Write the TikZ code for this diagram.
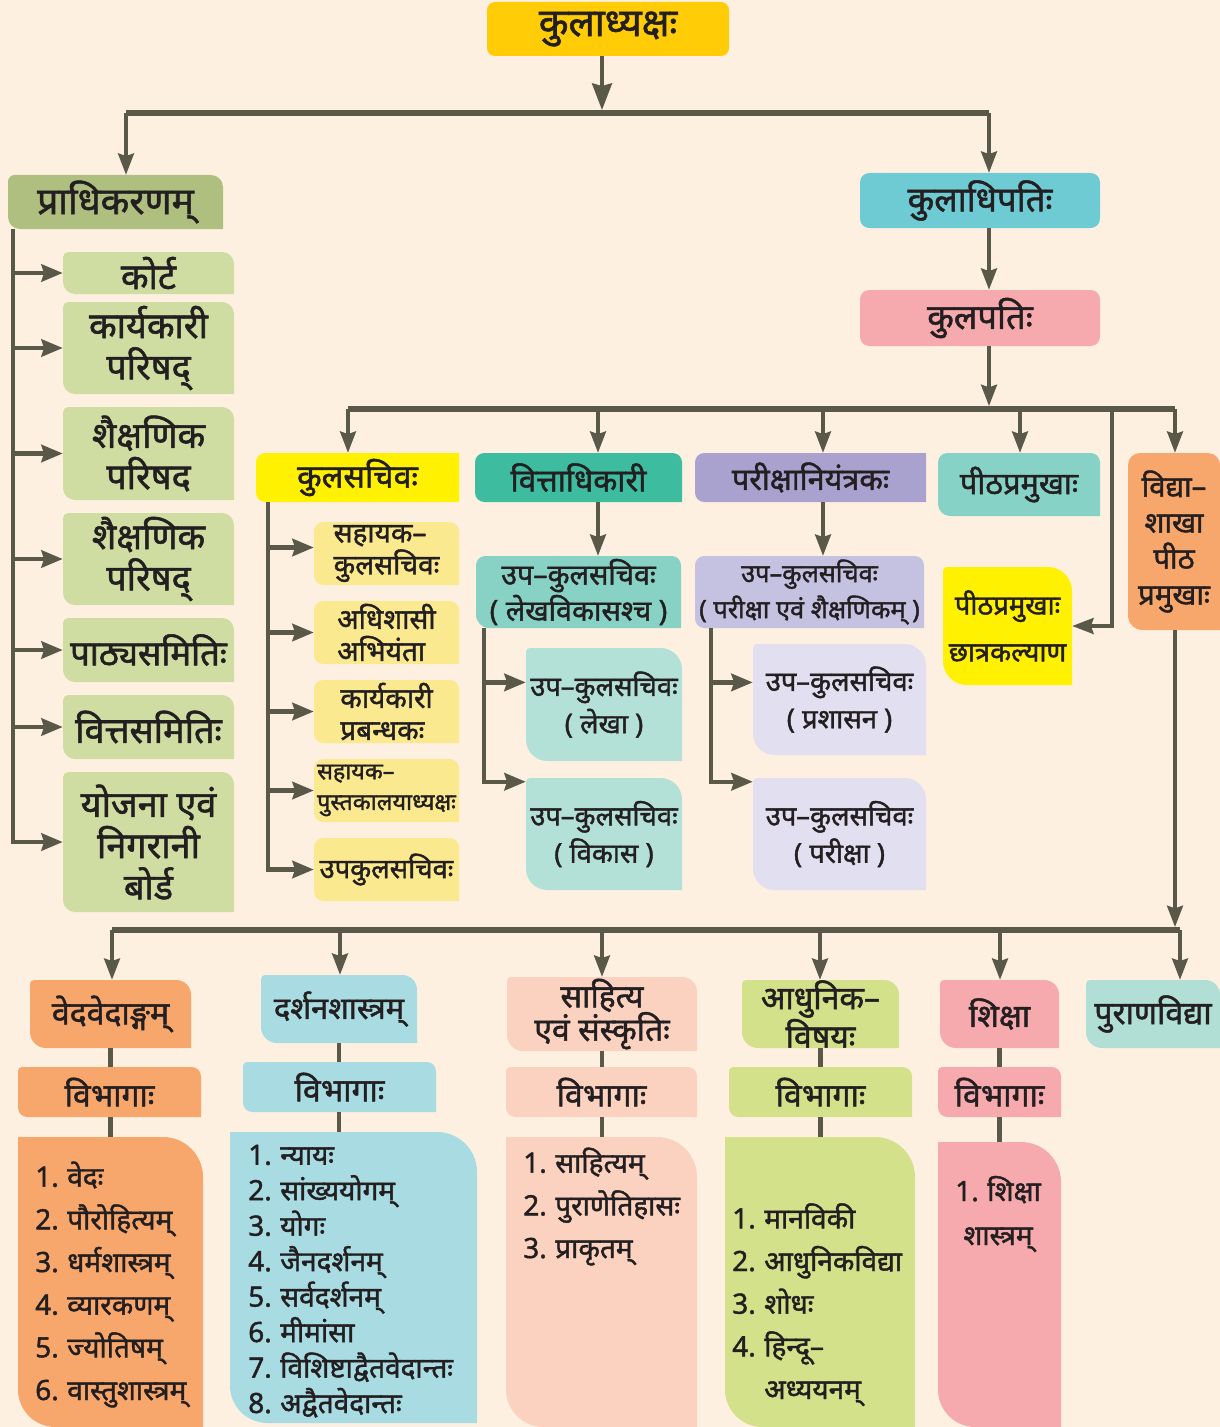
\documentclass[tikz,border=0pt]{standalone}
\usepackage{fontspec}
\setmainfont{Noto Sans}[Script=Devanagari, FakeBold=1.5]
\usetikzlibrary{arrows.meta,calc}
\definecolor{bgc}{HTML}{FDF0E1}
\definecolor{lc}{HTML}{5A5849}
\definecolor{txt}{HTML}{231F20}
\definecolor{cKad}{HTML}{FFCC05}
\definecolor{cPrad}{HTML}{AEBF7F}
\definecolor{cLg}{HTML}{CFDDA2}
\definecolor{cKdp}{HTML}{6ECAD3}
\definecolor{cKpt}{HTML}{F7AAAD}
\definecolor{cKsc}{HTML}{FFF100}
\definecolor{cLy}{HTML}{FBE98F}
\definecolor{cVtd}{HTML}{3DBC9F}
\definecolor{cUpv}{HTML}{87D2C4}
\definecolor{cLt}{HTML}{B3E1D7}
\definecolor{cPrk}{HTML}{A9A2CF}
\definecolor{cUpp}{HTML}{C5C1E1}
\definecolor{cLl}{HTML}{E2DFF1}
\definecolor{cPeeth}{HTML}{87D2C7}
\definecolor{cVid}{HTML}{F8A76C}
\definecolor{cDar}{HTML}{A8DCE2}
\definecolor{cSah}{HTML}{FBD1C0}
\definecolor{cAdh}{HTML}{D3E28A}
\definecolor{cPur}{HTML}{B2DFD5}
\newcommand\rshape[5]{\fill[#1] let \p1=(path picture bounding box.south west), \p2=(path picture bounding box.north east) in
  (\x1,\y2-#2pt) arc[start angle=180,end angle=90,radius=#2pt] -- (\x2-#3pt,\y2) arc[start angle=90,end angle=0,radius=#3pt]
  -- (\x2,\y1+#4pt) arc[start angle=0,end angle=-90,radius=#4pt] -- (\x1+#5pt,\y1) arc[start angle=270,end angle=180,radius=#5pt] -- cycle;}
\newcommand\B[7]{\node[#6, minimum width={(#4-#2)*0.75pt}, minimum height={(#5-#3)*0.75pt}] (#1) at ({(#2+#4)/2},{(#3+#5)/2}) {#7};}
\newcommand\numb[1]{\makebox[24pt][l]{#1}}
\newcommand\fs[2]{\fontsize{#1}{#2}\selectfont}
\tikzset{
  bx/.style n args={5}{fill=bgc, inner sep=0pt, text=txt, align=center, path picture={\rshape{#1}{#2}{#3}{#4}{#5}}},
  lt/.style={inner sep=0pt, text=txt, align=left, anchor=base west},
  ln/.style={draw=lc, line width=2.4pt},
  trunk/.style={draw=lc, line width=3.2pt},
  bus/.style={draw=lc, line width=4.2pt},
  arr/.style={ln, -{Stealth[length=16pt,width=12pt,inset=2pt]}},
  arrT/.style={trunk, -{Stealth[length=16pt,width=13pt,inset=2pt]}},
  arrB/.style={ln, -{Stealth[length=20pt,width=15pt,inset=2pt]}},
}
\begin{document}
\begin{tikzpicture}[x=0.75pt,y=-0.75pt]
\fill[bgc] (0,0) rectangle (1220,1427);
\useasboundingbox (0,0) rectangle (1220,1427);
% top
\B{kad}{487}{2}{729}{56}{bx={cKad}{6}{6}{6}{6}, font=\fs{29}{30}}{कुलाध्यक्षः}
\B{prad}{8}{175}{223}{229}{bx={cPrad}{5}{9}{0.01}{9}, font=\fs{28}{30}}{प्राधिकरणम्}
\B{kdp}{860}{173}{1100}{228}{bx={cKdp}{7}{7}{7}{7}, font=\fs{26}{30}}{कुलाधिपतिः}
\B{kpt}{860}{290}{1100}{346}{bx={cKpt}{7}{7}{7}{7}, font=\fs{26}{30}}{कुलपतिः}
% left green
\tikzset{lg/.style={bx={cLg}{4}{9}{0.01}{9}, font=\fs{27}{31}}}
\B{kort}{63}{252}{234}{294}{lg}{कोर्ट}
\B{kpar}{63}{302}{234}{394}{lg}{कार्यकारी\\परिषद्}
\B{shp1}{63}{407}{234}{500}{lg}{शैक्षणिक\\परिषद}
\B{shp2}{63}{513}{234}{605}{lg}{शैक्षणिक\\परिषद्}
\B{pths}{63}{618}{234}{682}{lg, font=\fs{26}{31}}{पाठ्यसमितिः}
\B{vtts}{63}{695}{234}{759}{lg}{वित्तसमितिः}
\B{yoj}{63}{772}{234}{912}{lg}{योजना एवं\\निगरानी\\बोर्ड}
% row 2
\B{ksc}{256}{453}{459}{502}{bx={cKsc}{7}{0.01}{0.01}{7}, font=\fs{24}{26}}{कुलसचिवः}
\tikzset{ly/.style={bx={cLy}{7}{7}{0.01}{7}, font=\fs{21}{24}, align=left}}
\B{sk1}{314}{522}{459}{585}{ly}{सहायक–\\कुलसचिवः}
\B{adhs}{314}{601}{459}{664}{ly}{अधिशासी\\अभियंता}
\B{kprb}{314}{680}{459}{743}{ly}{कार्यकारी\\प्रबन्धकः}
\B{spk}{314}{759}{459}{822}{ly, font=\fs{17.5}{23}}{सहायक–\\पुस्तकालयाध्यक्षः}
\B{upk}{314}{838}{459}{901}{ly, font=\fs{20.5}{24}}{उपकुलसचिवः}
\B{vtd}{475}{453}{682}{502}{bx={cVtd}{7}{7}{0.01}{7}, font=\fs{23.5}{26}}{वित्ताधिकारी}
\B{upv}{476}{556}{681}{628}{bx={cUpv}{7}{7}{0.01}{10}, font=\fs{21.5}{27}}{उप–कुलसचिवः\\( लेखविकासश्च )}
\B{lekha}{526}{648}{682}{761}{bx={cLt}{3}{16}{0.01}{16}, font=\fs{20.5}{28}}{उप–कुलसचिवः\\( लेखा )}
\B{vikas}{526}{778}{682}{890}{bx={cLt}{3}{16}{0.01}{16}, font=\fs{20.5}{28}}{उप–कुलसचिवः\\( विकास )}
\B{prk}{695}{453}{926}{502}{bx={cPrk}{7}{0.01}{0.01}{7}, font=\fs{23}{26}}{परीक्षानियंत्रकः}
\B{upp}{695}{556}{924}{628}{bx={cUpp}{7}{7}{0.01}{7}, font=\fs{19}{27}}{उप–कुलसचिवः\\( परीक्षा एवं शैक्षणिकम् )}
\B{prash}{753}{644}{926}{755}{bx={cLl}{3}{16}{0.01}{16}, font=\fs{20.5}{28}}{उप–कुलसचिवः\\( प्रशासन )}
\B{prksh}{753}{778}{926}{890}{bx={cLl}{3}{16}{0.01}{16}, font=\fs{20.5}{28}}{उप–कुलसचिवः\\( परीक्षा )}
\B{peeth}{938}{453}{1100}{516}{bx={cPeeth}{7}{7}{0.01}{9}, font=\fs{23}{26}}{पीठप्रमुखाः}
\B{chh}{943}{567}{1072}{685}{bx={cKsc}{3}{18}{0.01}{18}, font=\fs{20.5}{35}}{पीठप्रमुखाः\\छात्रकल्याण}
\B{vid}{1128}{453}{1220}{630}{bx={cVid}{9}{9}{0.01}{11}, font=\fs{22}{27}}{विद्या–\\शाखा\\पीठ\\प्रमुखाः}
% bottom row
\tikzset{bh/.style n args={1}{bx={#1}{3}{11}{0.01}{12}, font=\fs{24}{25}},
         bv/.style n args={1}{bx={#1}{3}{7}{0.01}{7}, font=\fs{24}{25}},
         bl/.style n args={1}{bx={#1}{0.01}{30}{0.01}{28}}}
\B{veda}{30}{980}{191}{1048}{bh=cVid}{वेदवेदाङ्गम्}
\B{vib1}{18}{1067}{201}{1117}{bv=cVid}{विभागाः}
\B{list1}{18}{1137}{203}{1427}{bl=cVid}{}
\B{dar}{261}{975}{417}{1043}{bh=cDar, font=\fs{23}{25}}{दर्शनशास्त्रम्}
\B{vib2}{243}{1062}{436}{1112}{bv=cDar}{विभागाः}
\B{list2}{230}{1132}{477}{1423}{bl=cDar}{}
\B{sah}{507}{977}{697}{1051}{bh=cSah}{साहित्य\\एवं संस्कृतिः}
\B{vib3}{506}{1067}{697}{1117}{bv=cSah}{विभागाः}
\B{list3}{506}{1137}{697}{1427}{bl=cSah}{}
\B{adh}{742}{980}{899}{1048}{bh=cAdh, font=\fs{24}{26}}{आधुनिक–\\विषयः}
\B{vib4}{729}{1067}{912}{1117}{bv=cAdh}{विभागाः}
\B{list4}{725}{1137}{915}{1427}{bl=cAdh}{}
\B{shik}{940}{980}{1059}{1048}{bh=cKpt}{शिक्षा}
\B{vib5}{938}{1067}{1061}{1117}{bv=cKpt}{विभागाः}
\B{list5}{938}{1142}{1061}{1427}{bl=cKpt}{}
\B{pur}{1086}{980}{1220}{1048}{bh=cPur}{पुराणविद्या}
% list texts (anchor = baseline of last line)
\node[lt, font=\fs{21}{32}] (t1) at (35,1400) {\numb{1.}वेदः\\\numb{2.}पौरोहित्यम्\\\numb{3.}धर्मशास्त्रम्\\\numb{4.}व्यारकणम्\\\numb{5.}ज्योतिषम्\\\numb{6.}वास्तुशास्त्रम्};
\node[lt, font=\fs{21}{26.6}] (t2) at (248,1413) {\numb{1.}न्यायः\\\numb{2.}सांख्ययोगम्\\\numb{3.}योगः\\\numb{4.}जैनदर्शनम्\\\numb{5.}सर्वदर्शनम्\\\numb{6.}मीमांसा\\\numb{7.}विशिष्टाद्वैतवेदान्तः\\\numb{8.}अद्वैतवेदान्तः};
\node[lt, font=\fs{21}{32}] (t3) at (523,1258) {\numb{1.}साहित्यम्\\\numb{2.}पुराणेतिहासः\\\numb{3.}प्राकृतम्};
\node[lt, font=\fs{21}{32}] (t4) at (732,1399) {\numb{1.}मानविकी\\\numb{2.}आधुनिकविद्या\\\numb{3.}शोधः\\\numb{4.}हिन्दू–\\\numb{}अध्ययनम्};
\node[lt, font=\fs{21}{33}] (t5) at (955,1245) {\numb{1.}शिक्षा\\\hspace*{6pt}शास्त्रम्};
% connectors top
\coordinate (b1m) at (602,110);
\coordinate (b1l) at (126,113);
\coordinate (b1r) at (989,113);
\draw[arrB] (kad.south -| b1m) -- (b1m);
\draw[bus] (b1l) -- (b1r);
\draw[arr] (b1l) -- (b1l |- prad.north);
\draw[arr] (b1r) -- (b1r |- kdp.north);
\draw[arr] (kdp.south -| b1r) -- (kpt.north -| b1r);
\coordinate (b2m) at (989,406);
\draw[arr] (kpt.south -| b1r) -- (b2m);
\coordinate (b2a) at (348,409);
\coordinate (b2b) at (598,409);
\coordinate (b2c) at (823,409);
\coordinate (b2d) at (1020,409);
\coordinate (b2f) at (1112,409);
\coordinate (b2e) at (1175,409);
\draw[bus] (b2a) -- (b2e);
\draw[arr] (b2a) -- (b2a |- ksc.north);
\draw[arr] (b2b) -- (b2b |- vtd.north);
\draw[arr] (b2c) -- (b2c |- prk.north);
\draw[arr] (b2d) -- (b2d |- peeth.north);
\draw[arr] (b2e) -- (b2e |- vid.north);
\draw[arr] (b2f) |- (chh.east);
\draw[arr] (vtd.south -| b2b) -- (upv.north -| b2b);
\draw[arr] (prk.south -| b2c) -- (upp.north -| b2c);
% left trunk
\coordinate (lv) at (13,229);
\foreach \n in {kort,kpar,shp1,shp2,pths,vtts,yoj} {\draw[arrT] (lv) |- (\n.west);}
% kulasachiv trunk
\coordinate (lv2) at (268,502);
\draw[arrT] (lv2) |- ([yshift=4.5pt]sk1.west);
\foreach \n in {adhs,kprb,spk,upk} {\draw[arrT] (lv2) |- (\n.west);}
% vitta trunk
\coordinate (lv3) at (484,628);
\draw[arrT] (lv3) |- ([yshift=-26pt]lekha.north west);
\draw[arrT] (lv3) |- ([yshift=-3pt]vikas.north west);
% pariksha trunk
\coordinate (lv4) at (711,628);
\draw[arrT] (lv4) |- ([yshift=-29pt]prash.north west);
\draw[arrT] (lv4) |- ([yshift=-3pt]prksh.north west);
% bottom bus
\coordinate (b3in) at (1175,927);
\draw[arr] (vid.south -| b2e) -- (b3in);
\coordinate (b3a) at (112,930);
\coordinate (b3b) at (340,930);
\coordinate (b3c) at (602,930);
\coordinate (b3d) at (820,930);
\coordinate (b3e) at (1000,930);
\coordinate (b3f) at (1180,930);
\draw[bus] (b3a) -- (b3f);
\draw[arr] (b3a) -- (b3a |- veda.north);
\draw[arr] (b3b) -- (b3b |- dar.north);
\draw[arr] (b3c) -- (b3c |- sah.north);
\draw[arr] (b3d) -- (b3d |- adh.north);
\draw[arr] (b3e) -- (b3e |- shik.north);
\draw[arr] (b3f) -- (b3f |- pur.north);
\foreach \h/\v/\l in {veda/vib1/list1,dar/vib2/list2,sah/vib3/list3,adh/vib4/list4,shik/vib5/list5} {
  \draw[trunk] (\h.south) -- (\h.south |- \v.north);
  \draw[trunk] (\h.south |- \v.south) -- (\h.south |- \l.north);
}
\end{tikzpicture}
\end{document}
